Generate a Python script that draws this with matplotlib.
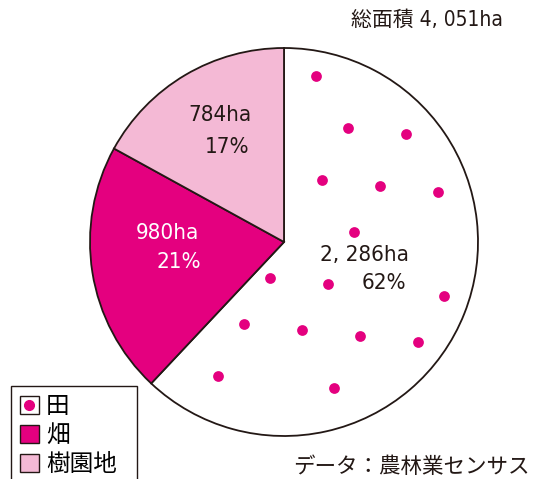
import numpy as np
import matplotlib
matplotlib.use("Agg")
import matplotlib.pyplot as plt
from matplotlib.patches import Rectangle
from matplotlib.lines import Line2D
from matplotlib.legend_handler import HandlerTuple
from matplotlib import font_manager

# ---- data ----
categories = ["田", "畑", "樹園地"]
area_ha = ["2, 286ha", "980ha", "784ha"]
percents = [62, 21, 17]
total_label = "総面積 4, 051ha"
source_label = "データ：農林業センサス"

colors = ["#FFFFFF", "#E4007F", "#F4B9D5"]
dot_color = "#E4007F"
edge_color = "#231815"
text_colors = ["#231815", "#FFFFFF", "#231815"]

fam = ["DejaVu Sans", "Noto Sans CJK JP"]
jp = ["Noto Sans CJK JP", "DejaVu Sans"]

W, H = 537, 479
fig = plt.figure(figsize=(W / 100, H / 100), dpi=100)
ax = fig.add_axes([0, 0, 1, 1])

cx, cy, R = 284, H - 242, 194
wedges, _ = ax.pie(percents, colors=colors, startangle=90, counterclock=False,
                   center=(cx, cy), radius=R, frame=True,
                   wedgeprops=dict(edgecolor=edge_color, linewidth=1.3))
ax.set_xlim(0, W)
ax.set_ylim(0, H)
ax.axis("off")

# labels
lab_pos = [((364, H - 255), (384, H - 283)),
           ((167, H - 233), (179, H - 262)),
           ((220, H - 115), (227, H - 147))]
for k in range(3):
    (x1, y1), (x2, y2) = lab_pos[k]
    ax.text(x1, y1, area_ha[k], ha="center", va="center", fontsize=16,
            color=text_colors[k], family=fam, fontstretch="condensed")
    ax.text(x2, y2, f"{percents[k]}%", ha="center", va="center", fontsize=16,
            color=text_colors[k], family=fam, fontstretch="condensed")

# dotted fill pattern inside the first wedge (staggered lattice), kept clear of its label
w0 = wedges[0]
t1, t2 = w0.theta1, w0.theta2
pts = []
for i in range(-10, 11):
    for j in range(-10, 11):
        x = 316.0 + i * 58.0 + (j % 2) * 29.0 + j * 3.0
        y = (H - 76.0) - j * 52.0 - i * 6.0
        pts.append((x, y))
pts = np.array(pts)
dx, dy = pts[:, 0] - cx, pts[:, 1] - cy
r = np.hypot(dx, dy)
ang = np.degrees(np.arctan2(dy, dx)) % 360
lo, hi = t1 % 360, t2 % 360
def inside(angv):
    if lo <= hi:
        return (angv >= lo) & (angv <= hi)
    return (angv >= lo) | (angv <= hi)
def line_dist(theta):
    th = np.radians(theta)
    return np.abs(dx * np.sin(th) - dy * np.cos(th))
(lx1, ly1), (lx2, ly2) = lab_pos[0]
near_label = ((np.abs(pts[:, 0] - lx1) < 55) & (np.abs(pts[:, 1] - ly1) < 20)) | \
             ((np.abs(pts[:, 0] - lx2) < 35) & (np.abs(pts[:, 1] - ly2) < 20))
keep = (r < R - 12) & inside(ang) & (line_dist(t1) > 12) & (line_dist(t2) > 12) & ~near_label
ax.scatter(pts[keep, 0], pts[keep, 1], s=60, color=dot_color, linewidths=0, zorder=3)

ax.text(503, H - 20, total_label, ha="right", va="center", fontsize=15,
        color=edge_color, family=fam, fontstretch="condensed")
ax.text(530, H - 467, source_label, ha="right", va="center", fontsize=15.5,
        color=edge_color, family=jp)

# legend box (runs off the bottom of the figure)
ax.add_patch(Rectangle((11, -10), 126, (H - 386) + 10, facecolor="white",
                       edgecolor=edge_color, linewidth=1, zorder=4))

h0 = (Rectangle((0, 0), 1, 1, facecolor="white", edgecolor=edge_color, linewidth=1),
      Line2D([], [], marker="o", color=dot_color, linestyle="none", markersize=7))
h1 = Rectangle((0, 0), 1, 1, facecolor=colors[1], edgecolor=edge_color, linewidth=1)
h2 = Rectangle((0, 0), 1, 1, facecolor=colors[2], edgecolor=edge_color, linewidth=1)
leg = fig.legend([h0, h1, h2], categories,
                 handler_map={tuple: HandlerTuple(ndivide=1, pad=0)},
                 loc="upper left", bbox_to_anchor=(13 / W, 1 - 388 / H),
                 prop=font_manager.FontProperties(family=jp, size=17),
                 frameon=False,
                 handlelength=0.78, handleheight=0.78, handletextpad=0.32,
                 labelspacing=0.26, borderpad=0.3, borderaxespad=0)
leg.set_zorder(5)

fig.savefig("out.png", dpi=100)
